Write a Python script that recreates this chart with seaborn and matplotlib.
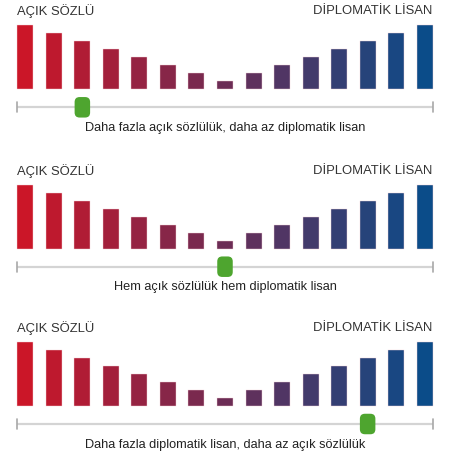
import matplotlib
matplotlib.use('Agg')
import matplotlib.pyplot as plt
from matplotlib.patches import FancyBboxPatch
from matplotlib.transforms import IdentityTransform
import numpy as np
import pandas as pd
import seaborn as sns

# ── data ─────────────────────────────────────────────────────────
bar_pos    = list(range(15))
bar_height = [8, 7, 6, 5, 4, 3, 2, 1, 2, 3, 4, 5, 6, 7, 8]
left_label  = "AÇIK SÖZLÜ"
right_label = "DİPLOMATİK LİSAN"
knob_pos = [2, 7, 12]
captions = [
    "Daha fazla açık sözlülük, daha az diplomatik lisan",
    "Hem açık sözlülük hem diplomatik lisan",
    "Daha fazla diplomatik lisan, daha az açık sözlülük",
]

# ── style ────────────────────────────────────────────────────────
sns.set_style("white")
plt.rcParams['font.family'] = ['Liberation Sans', 'DejaVu Sans']

W, H = 450, 461
PX = 8.0                        # pixels per value unit
baselines = [89.3, 248.7, 406]  # bar baseline, px from top
above, below = 84, 46

palette = sns.blend_palette(["#cb1628", "#6c2c55", "#0b4c89"], 15)
df = pd.DataFrame({'pos': bar_pos, 'h': bar_height})

fig = plt.figure(figsize=(W / 100, H / 100), dpi=100)
pitch = 28.52
x0 = 25.3 / pitch

for b, kp, cap in zip(baselines, knob_pos, captions):
    ax = fig.add_axes([0, 1 - (b + below) / H, 1, (above + below) / H])
    sns.barplot(data=df, x='pos', y='h', hue='pos', palette=palette,
                width=0.56, legend=False, ax=ax, saturation=1,
                edgecolor='#f4d0d6', linewidth=0.3)
    ax.set_xlim(-x0, 14 + x0)
    ax.set_ylim(-below / PX, above / PX)
    ax.axis('off')

    # titles
    ax.text(-0.28, 78 / PX, left_label, ha='left', va='center',
            fontsize=9.4, color='#333333')
    ax.text(14.28, 78 / PX, right_label, ha='right', va='center',
            fontsize=9.4, color='#333333')

    # slider
    ys = -18 / PX
    ax.plot([-0.28, 14.28], [ys, ys], color='#d4d4d4', lw=1.6,
            solid_capstyle='butt', zorder=1)
    for xe in [-0.28, 14.28]:
        ax.plot([xe, xe], [ys - 5 / PX, ys + 5 / PX], color='#a8a8a8',
                lw=1.2, zorder=2)

    # knob, drawn in pixel units so corners stay round
    cx, cy = ax.transData.transform((kp, ys))
    kw, kh = 15.5, 20.5
    knob = FancyBboxPatch((cx - kw / 2, cy - kh / 2), kw, kh,
                          boxstyle="round,pad=0,rounding_size=5",
                          transform=IdentityTransform(),
                          fc='#4ea52f', ec='none', zorder=3)
    ax.add_patch(knob)

    ax.text(7, -38.5 / PX, cap, ha='center', va='center',
            fontsize=9.2, color='#222222')

fig.savefig('out.png', dpi=100)
